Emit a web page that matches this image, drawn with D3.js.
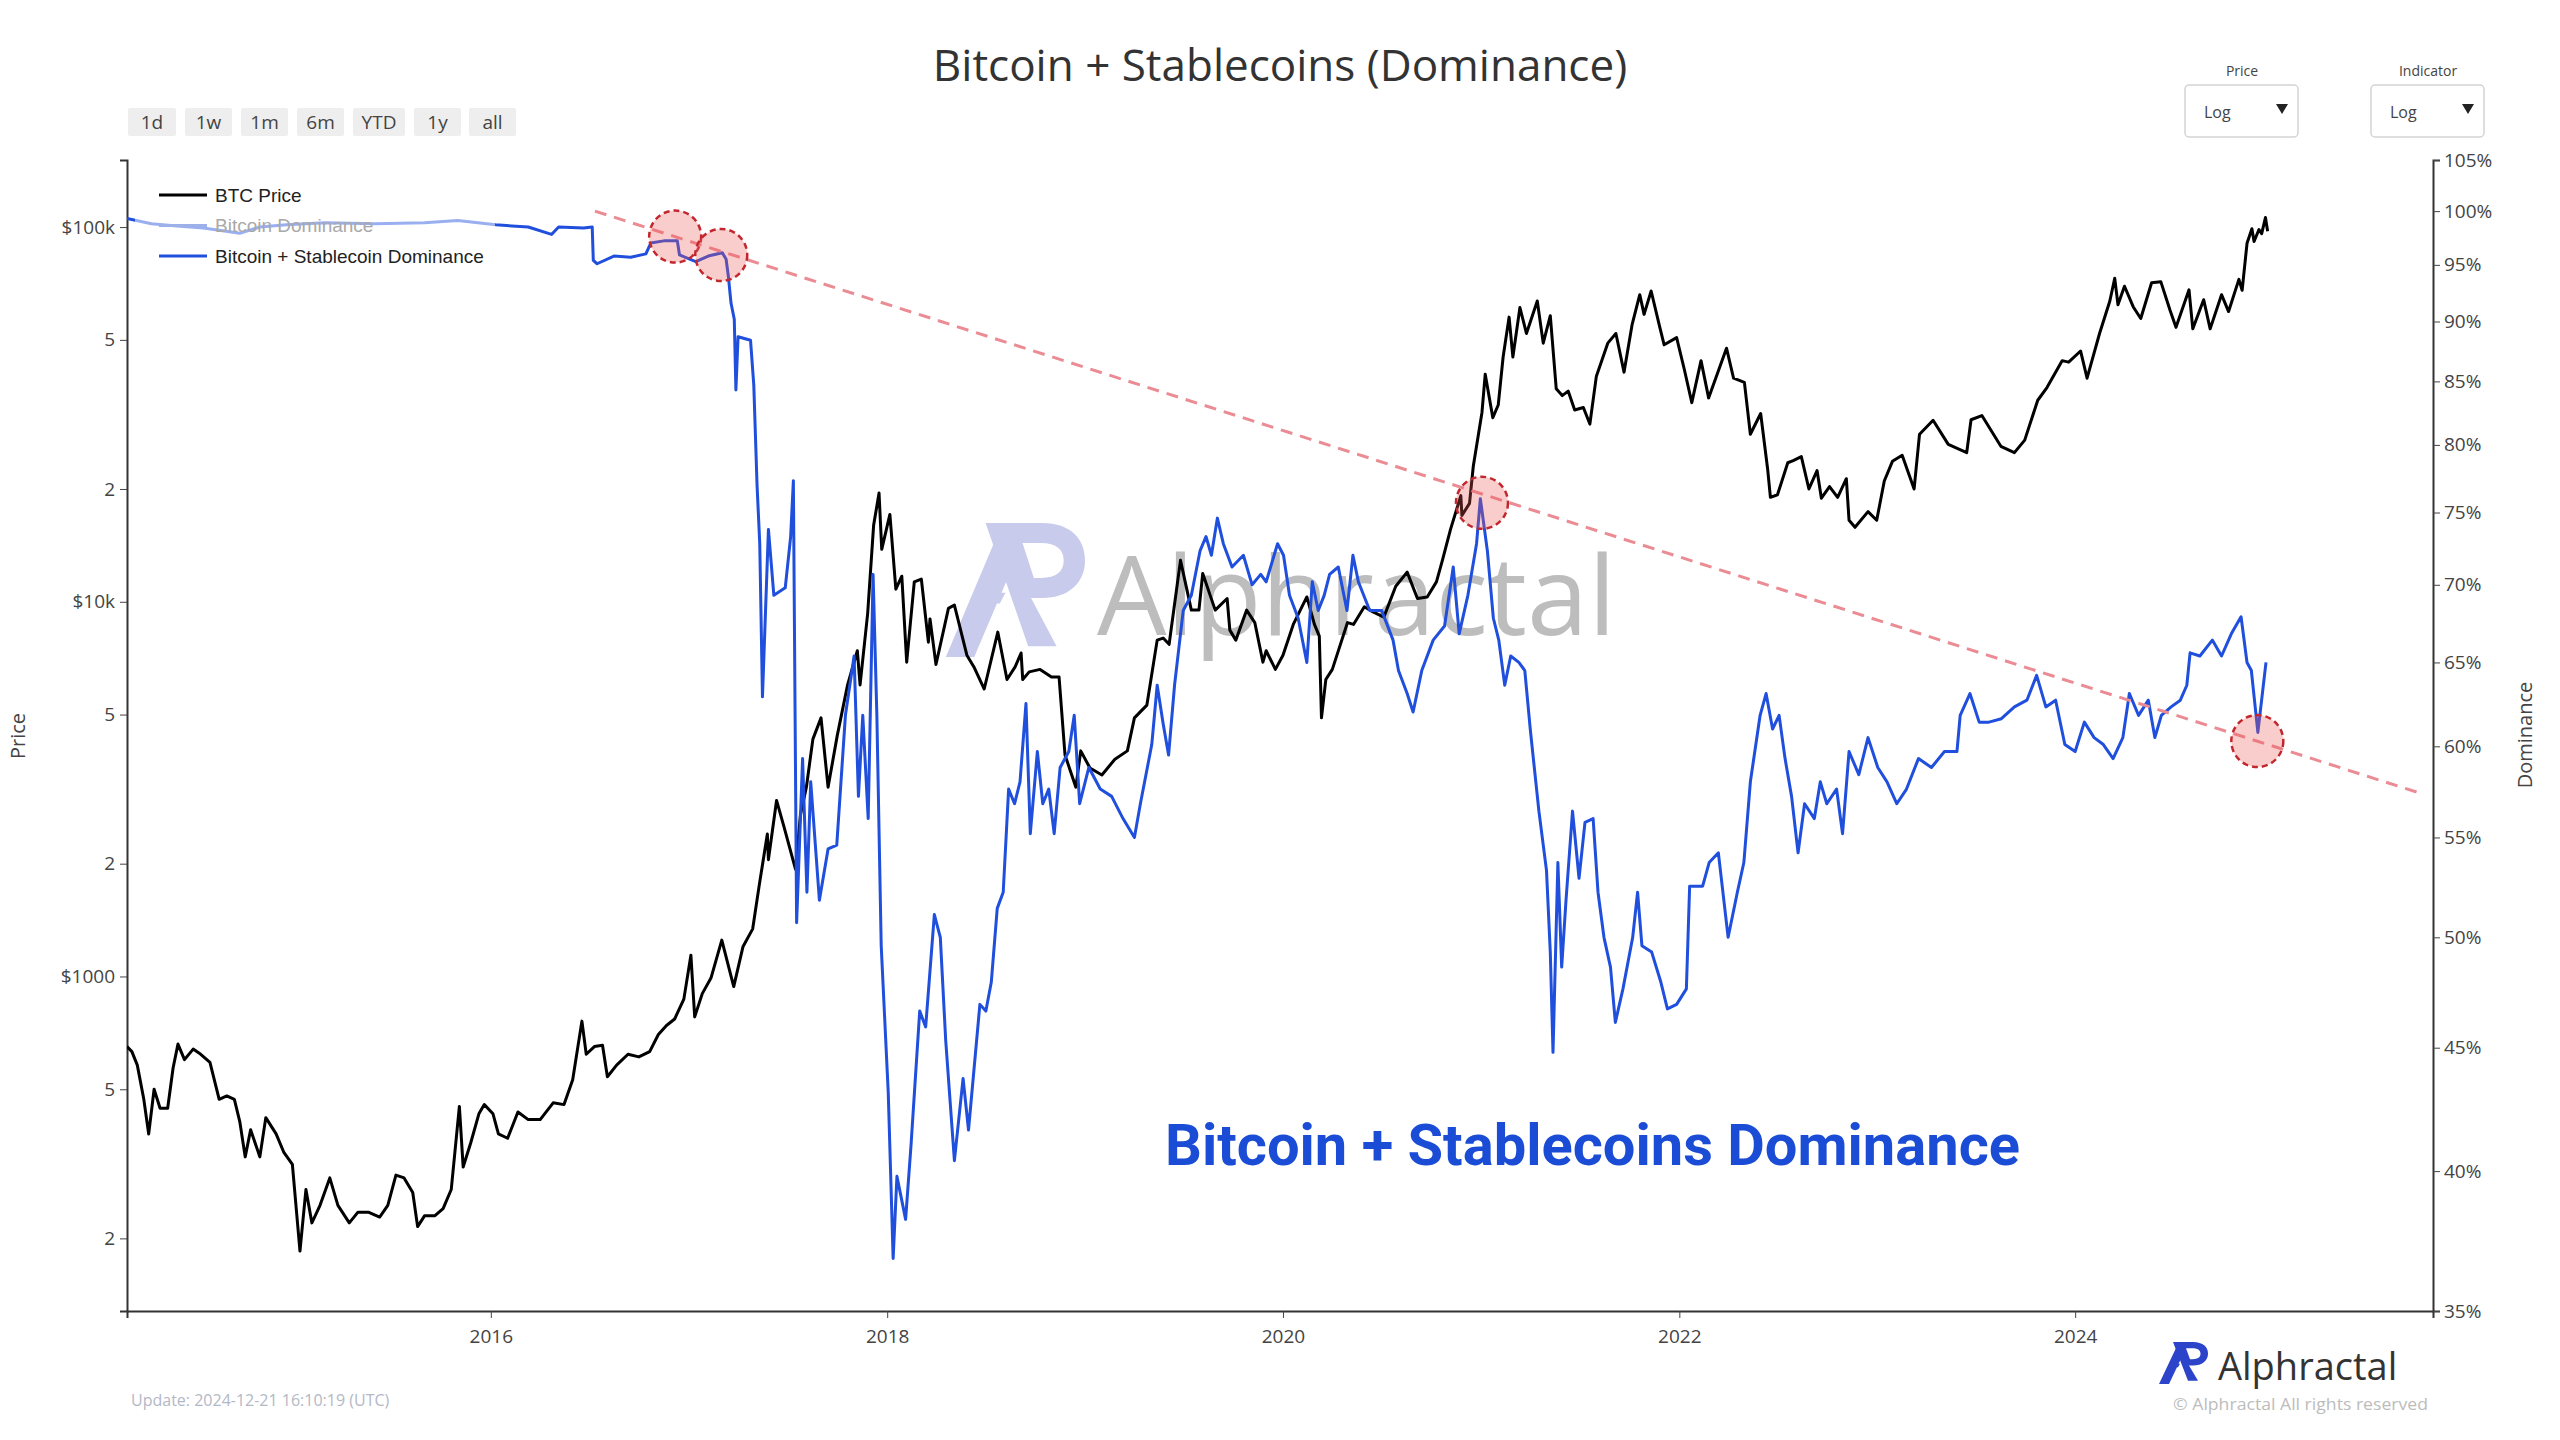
<!DOCTYPE html>
<html>
<head>
<meta charset="utf-8">
<script src="https://cdn.jsdelivr.net/npm/d3@7"></script>
<style>
  body { margin: 0; background: #fff; }
  svg { display: block; font-family: "Open Sans", sans-serif; }
</style>
</head>
<body>
<script>
// BTC price (USD)
var btcPrice = [
  ["2014-03-01",650],["2014-03-10",630],["2014-03-20",580],["2014-04-01",470],["2014-04-10",380],["2014-04-20",500],
  ["2014-05-01",445],["2014-05-15",445],["2014-05-25",570],["2014-06-03",660],["2014-06-15",600],["2014-07-01",640],
  ["2014-07-15",620],["2014-08-01",590],["2014-08-18",470],["2014-09-01",480],["2014-09-15",470],["2014-09-25",410],
  ["2014-10-05",330],["2014-10-15",390],["2014-11-01",330],["2014-11-12",420],["2014-12-01",380],["2014-12-15",340],
  ["2014-12-31",315],["2015-01-14",185],["2015-01-25",270],["2015-02-05",220],["2015-02-20",245],["2015-03-10",290],
  ["2015-03-25",245],["2015-04-15",220],["2015-05-01",235],["2015-05-20",235],["2015-06-10",228],["2015-06-25",245],
  ["2015-07-10",295],["2015-07-25",290],["2015-08-10",265],["2015-08-19",215],["2015-09-01",230],["2015-09-20",230],
  ["2015-10-05",240],["2015-10-20",270],["2015-11-04",450],["2015-11-11",310],["2015-11-25",360],["2015-12-10",430],
  ["2015-12-20",455],["2016-01-05",430],["2016-01-15",380],["2016-02-01",370],["2016-02-20",435],["2016-03-10",415],
  ["2016-04-01",415],["2016-04-25",460],["2016-05-15",455],["2016-05-31",530],["2016-06-17",760],["2016-06-25",620],
  ["2016-07-10",650],["2016-07-25",655],["2016-08-03",540],["2016-08-20",580],["2016-09-10",620],["2016-09-30",610],
  ["2016-10-20",630],["2016-11-05",700],["2016-11-20",740],["2016-12-05",770],["2016-12-22",870],["2017-01-04",1140],
  ["2017-01-11",780],["2017-01-25",900],["2017-02-10",990],["2017-03-02",1250],["2017-03-24",940],["2017-04-10",1200],
  ["2017-04-28",1340],["2017-05-10",1750],["2017-05-25",2400],["2017-05-27",2050],["2017-06-11",2950],["2017-06-25",2500],
  ["2017-07-16",1930],["2017-07-25",2700],["2017-08-05",3200],["2017-08-17",4300],["2017-09-01",4900],["2017-09-14",3200],
  ["2017-10-01",4400],["2017-10-20",6000],["2017-11-07",7400],["2017-11-12",6000],["2017-11-26",9300],["2017-12-07",16000],
  ["2017-12-17",19500],["2017-12-22",13800],["2018-01-06",17100],["2018-01-17",10800],["2018-01-28",11700],["2018-02-06",6900],
  ["2018-02-20",11300],["2018-03-05",11500],["2018-03-18",7800],["2018-03-21",9000],["2018-04-01",6800],["2018-04-24",9600],
  ["2018-05-05",9800],["2018-05-28",7200],["2018-06-10",6700],["2018-06-29",5850],["2018-07-24",8300],["2018-08-10",6200],
  ["2018-08-25",6700],["2018-09-05",7300],["2018-09-08",6200],["2018-09-20",6500],["2018-10-10",6600],["2018-10-31",6300],
  ["2018-11-14",6300],["2018-11-25",3900],["2018-12-15",3200],["2018-12-24",4000],["2019-01-10",3600],["2019-02-01",3450],
  ["2019-02-25",3800],["2019-03-20",4000],["2019-04-02",4900],["2019-04-25",5300],["2019-05-14",7900],["2019-05-25",8000],
  ["2019-06-05",7700],["2019-06-26",12900],["2019-07-16",9500],["2019-07-30",9500],["2019-08-06",11900],["2019-08-29",9500],
  ["2019-09-20",10200],["2019-09-25",8400],["2019-10-06",7900],["2019-10-26",9500],["2019-11-10",8800],["2019-11-25",6900],
  ["2019-12-01",7400],["2019-12-18",6600],["2020-01-01",7200],["2020-01-20",8700],["2020-02-14",10300],["2020-02-28",8700],
  ["2020-03-08",8100],["2020-03-12",4900],["2020-03-20",6200],["2020-04-01",6600],["2020-04-29",8800],["2020-05-10",8700],
  ["2020-05-30",9700],["2020-06-15",9400],["2020-07-05",9100],["2020-07-27",11000],["2020-08-17",12000],["2020-09-05",10200],
  ["2020-09-23",10300],["2020-10-10",11300],["2020-10-21",12900],["2020-11-05",15600],["2020-11-24",19200],["2020-11-26",17000],
  ["2020-12-10",18300],["2020-12-17",23000],["2021-01-02",32000],["2021-01-08",40500],["2021-01-22",31000],["2021-02-01",33500],
  ["2021-02-10",45000],["2021-02-21",57500],["2021-02-28",45000],["2021-03-13",61000],["2021-03-25",52000],["2021-04-14",63500],
  ["2021-04-25",49000],["2021-05-08",58000],["2021-05-19",37000],["2021-05-30",35500],["2021-06-10",36500],["2021-06-22",32500],
  ["2021-07-08",33000],["2021-07-20",29800],["2021-08-01",40000],["2021-08-22",49000],["2021-09-06",52000],["2021-09-21",41000],
  ["2021-10-06",55000],["2021-10-20",66000],["2021-10-28",58500],["2021-11-10",67500],["2021-11-26",54000],["2021-12-04",48500],
  ["2021-12-27",50700],["2022-01-10",41800],["2022-01-24",34000],["2022-02-10",44000],["2022-02-24",35000],["2022-03-29",47500],
  ["2022-04-11",39500],["2022-05-01",38500],["2022-05-12",28000],["2022-05-31",31800],["2022-06-13",22500],["2022-06-18",19000],
  ["2022-07-01",19300],["2022-07-20",23500],["2022-07-30",23800],["2022-08-14",24400],["2022-08-28",20000],["2022-09-12",22400],
  ["2022-09-20",18900],["2022-10-05",20300],["2022-10-20",19000],["2022-11-05",21300],["2022-11-10",16500],["2022-11-21",15800],
  ["2022-12-15",17400],["2022-12-31",16500],["2023-01-14",21000],["2023-01-29",23700],["2023-02-16",24600],["2023-03-10",20000],
  ["2023-03-20",28000],["2023-04-14",30500],["2023-05-12",26300],["2023-06-15",25000],["2023-06-23",30600],["2023-07-13",31400],
  ["2023-08-17",26000],["2023-09-11",25000],["2023-09-30",27000],["2023-10-24",34500],["2023-11-10",37300],["2023-12-08",44000],
  ["2023-12-20",43600],["2024-01-11",46700],["2024-01-23",39500],["2024-02-15",52000],["2024-03-05",63500],["2024-03-14",73000],
  ["2024-03-20",62000],["2024-04-01",69500],["2024-04-17",61300],["2024-05-01",57000],["2024-05-21",71000],["2024-06-07",71500],
  ["2024-06-24",60000],["2024-07-05",54000],["2024-07-29",68000],["2024-08-05",53500],["2024-08-25",64000],["2024-09-06",53500],
  ["2024-09-27",66000],["2024-10-10",59500],["2024-10-29",72500],["2024-11-04",67800],["2024-11-13",90500],["2024-11-22",99000],
  ["2024-11-26",91500],["2024-12-05",98500],["2024-12-10",96000],["2024-12-17",106000],["2024-12-21",97500]
];

// Bitcoin + Stablecoin dominance (%)
var stableDom = [
  ["2014-03-01",99.3],["2014-04-15",98.8],["2014-06-01",98.6],["2014-07-20",98.4],["2014-09-25",97.9],["2014-11-01",98.5],
  ["2014-12-20",98.7],["2015-03-01",98.9],["2015-06-01",98.8],["2015-09-01",98.9],["2015-11-01",99.1],["2016-01-10",98.7],
  ["2016-03-10",98.5],["2016-04-22",97.8],["2016-05-05",98.5],["2016-06-20",98.4],["2016-07-06",98.5],["2016-07-08",95.4],
  ["2016-07-15",95.1],["2016-08-15",95.8],["2016-09-15",95.7],["2016-10-13",96.0],["2016-10-22",97.0],["2016-11-15",97.2],
  ["2016-12-10",97.2],["2016-12-14",95.9],["2017-01-13",95.3],["2017-02-05",95.8],["2017-03-03",96.1],["2017-03-10",95.5],
  ["2017-03-14",94.0],["2017-03-19",91.6],["2017-03-25",90.2],["2017-03-28",84.3],["2017-04-01",88.7],["2017-04-24",88.4],
  ["2017-04-30",84.7],["2017-05-06",77.0],["2017-05-11",72.8],["2017-05-16",62.9],["2017-05-27",73.8],["2017-06-06",69.3],
  ["2017-06-27",69.8],["2017-07-07",73.3],["2017-07-12",77.3],["2017-07-18",50.7],["2017-07-29",59.3],["2017-08-06",52.2],
  ["2017-08-13",58.0],["2017-08-29",51.8],["2017-09-14",54.4],["2017-09-30",54.6],["2017-10-16",61.8],["2017-11-01",65.4],
  ["2017-11-09",57.2],["2017-11-17",61.8],["2017-11-27",56.0],["2017-12-06",70.7],["2017-12-13",61.8],["2017-12-21",49.6],
  ["2018-01-03",43.1],["2018-01-12",36.8],["2018-01-19",39.8],["2018-02-04",38.2],["2018-02-14",41.0],["2018-03-02",46.6],
  ["2018-03-13",45.9],["2018-03-29",51.1],["2018-04-09",50.0],["2018-04-19",45.3],["2018-05-05",40.4],["2018-05-21",43.7],
  ["2018-05-31",41.6],["2018-06-21",46.9],["2018-07-02",46.6],["2018-07-12",47.9],["2018-07-23",51.4],["2018-08-03",52.2],
  ["2018-08-13",57.6],["2018-08-24",56.8],["2018-09-03",58.0],["2018-09-14",62.5],["2018-09-22",55.2],["2018-10-05",59.7],
  ["2018-10-15",56.8],["2018-10-26",57.6],["2018-11-05",55.2],["2018-11-16",58.8],["2018-12-02",59.7],["2018-12-12",61.8],
  ["2018-12-22",56.8],["2019-01-08",58.8],["2019-01-29",57.6],["2019-02-19",57.2],["2019-03-12",56.0],["2019-04-02",55.0],
  ["2019-04-13",56.8],["2019-05-04",60.1],["2019-05-14",63.6],["2019-05-25",61.3],["2019-06-04",59.5],["2019-06-15",63.6],
  ["2019-07-01",68.3],["2019-07-16",69.3],["2019-08-01",72.3],["2019-08-12",73.3],["2019-08-22",72.0],["2019-09-02",74.6],
  ["2019-09-13",72.8],["2019-09-29",71.2],["2019-10-20",72.0],["2019-11-05",70.0],["2019-11-21",70.7],["2019-12-01",70.2],
  ["2019-12-22",72.8],["2020-01-02",72.0],["2020-01-13",69.3],["2020-01-29",67.8],["2020-02-14",65.0],["2020-02-24",70.2],
  ["2020-03-06",68.3],["2020-03-17",69.3],["2020-03-27",70.7],["2020-04-12",71.2],["2020-04-28",68.3],["2020-05-09",72.0],
  ["2020-05-19",70.2],["2020-06-09",68.3],["2020-07-01",68.3],["2020-07-22",66.4],["2020-08-01",64.5],["2020-08-17",63.1],
  ["2020-08-28",62.0],["2020-09-13",64.5],["2020-10-04",66.4],["2020-10-25",67.3],["2020-11-10",71.2],["2020-11-21",66.8],
  ["2020-12-07",69.3],["2020-12-23",72.8],["2020-12-30",76.0],["2021-01-12",72.3],["2021-01-23",67.8],["2021-02-02",66.4],
  ["2021-02-13",63.6],["2021-02-24",65.4],["2021-03-11",65.0],["2021-03-22",64.5],["2021-04-01",61.0],["2021-04-17",56.4],
  ["2021-05-01",53.3],["2021-05-08",49.3],["2021-05-13",44.8],["2021-05-22",53.7],["2021-05-29",48.6],["2021-06-06",51.8],
  ["2021-06-18",56.4],["2021-06-30",52.9],["2021-07-11",55.8],["2021-07-26",56.0],["2021-08-04",52.2],["2021-08-15",50.0],
  ["2021-08-27",48.6],["2021-09-05",46.1],["2021-09-19",47.6],["2021-10-07",50.0],["2021-10-16",52.2],["2021-10-24",49.6],
  ["2021-11-11",49.3],["2021-11-28",47.9],["2021-12-10",46.7],["2021-12-27",46.9],["2022-01-14",47.6],["2022-01-20",52.5],
  ["2022-02-13",52.5],["2022-02-25",53.7],["2022-03-14",54.2],["2022-04-01",50.0],["2022-04-18",52.2],["2022-04-30",53.7],
  ["2022-05-12",58.0],["2022-05-30",61.8],["2022-06-10",63.1],["2022-06-22",61.0],["2022-07-04",61.8],["2022-07-15",59.3],
  ["2022-07-27",57.2],["2022-08-08",54.2],["2022-08-20",56.8],["2022-09-07",56.0],["2022-09-18",58.0],["2022-09-30",56.8],
  ["2022-10-18",57.6],["2022-10-29",55.2],["2022-11-10",59.7],["2022-11-28",58.4],["2022-12-15",60.5],["2023-01-02",58.8],
  ["2023-01-19",58.0],["2023-02-06",56.8],["2023-02-24",57.6],["2023-03-18",59.3],["2023-04-11",58.8],["2023-05-05",59.7],
  ["2023-05-28",59.7],["2023-06-03",61.8],["2023-06-21",63.1],["2023-07-08",61.4],["2023-07-26",61.4],["2023-08-18",61.6],
  ["2023-09-11",62.3],["2023-10-04",62.7],["2023-10-22",64.2],["2023-11-08",62.3],["2023-11-26",62.7],["2023-12-13",60.1],
  ["2024-01-01",59.7],["2024-01-18",61.4],["2024-02-05",60.5],["2024-02-22",60.1],["2024-03-11",59.3],["2024-03-29",60.5],
  ["2024-04-10",63.1],["2024-04-27",61.8],["2024-05-15",62.7],["2024-05-27",60.5],["2024-06-08",61.8],["2024-06-26",62.3],
  ["2024-07-13",62.7],["2024-07-25",63.6],["2024-07-31",65.6],["2024-08-18",65.4],["2024-09-10",66.4],["2024-09-27",65.4],
  ["2024-10-15",66.8],["2024-11-02",67.9],["2024-11-13",65.0],["2024-11-21",64.5],["2024-12-03",60.8],["2024-12-18",65.0]
];

var priceTicks = [200, 500, 1000, 2000, 5000, 10000, 20000, 50000, 100000];
var priceTickLabels = ["2", "5", "$1000", "2", "5", "$10k", "2", "5", "$100k"];
var domTicks = [35, 40, 45, 50, 55, 60, 65, 70, 75, 80, 85, 90, 95, 100, 105];
var yearTicks = ["2016", "2018", "2020", "2022", "2024"];
var rangeButtons = ["1d", "1w", "1m", "6m", "YTD", "1y", "all"];
var legendItems = ["BTC Price", "Bitcoin Dominance", "Bitcoin + Stablecoin Dominance"];
var trendLine = [["2016-07-11", 100.0], ["2025-09-26", 57.4]];
var highlights = [["2016-12-06", 97.6], ["2017-03-01", 95.9], ["2021-01-02", 75.7], ["2024-12-02", 60.3]];

var BLUE = "#1f4fdc";
var parse = d3.timeParse("%Y-%m-%d");

var svg = d3.select("body").append("svg")
  .attr("width", 2560).attr("height", 1440);

var L = 127, R = 2433, T = 160, B = 1311;

var x = d3.scaleTime().domain([parse("2014-03-01"), parse("2025-10-22")]).range([L, R]);
var yPrice = d3.scaleLog().domain([128, 151000]).range([B, T]);
var yDom = d3.scaleLog().domain([35, 105]).range([B, T]);

// title
svg.append("text").attr("x", 1280).attr("y", 64).attr("text-anchor", "middle")
  .attr("dominant-baseline", "central").attr("font-size", 44).attr("fill", "#333")
  .text("Bitcoin + Stablecoins (Dominance)");

// range buttons
var bx = [128, 185, 241, 297, 353, 414, 469];
var bw = [48, 47, 47, 47, 52, 47, 47];
rangeButtons.forEach(function(b, i) {
  svg.append("rect").attr("x", bx[i]).attr("y", 108).attr("width", bw[i]).attr("height", 28)
    .attr("rx", 2).attr("fill", "#eeeeee");
  svg.append("text").attr("x", bx[i] + bw[i] / 2).attr("y", 122).attr("text-anchor", "middle")
    .attr("dominant-baseline", "central").attr("font-size", 19).attr("fill", "#444").text(b);
});

// dropdowns
[["Price", 2185], ["Indicator", 2371]].forEach(function(d) {
  svg.append("text").attr("x", d[1] + 57).attr("y", 70).attr("text-anchor", "middle")
    .attr("dominant-baseline", "central").attr("font-size", 14).attr("fill", "#444").text(d[0]);
  svg.append("rect").attr("x", d[1]).attr("y", 85).attr("width", 113).attr("height", 52)
    .attr("rx", 4).attr("fill", "#fff").attr("stroke", "#d4d4d4").attr("stroke-width", 1.5);
  svg.append("text").attr("x", d[1] + 19).attr("y", 112).attr("dominant-baseline", "central")
    .attr("font-size", 16).attr("fill", "#444").text("Log");
  svg.append("path").attr("d", "M" + (d[1] + 91) + ",104 l12,0 l-6,10 z").attr("fill", "#222");
});

// watermark
function logo(g, x0, y0, w, h, color) {
  var s = g.append("g").attr("transform", "translate(" + x0 + "," + y0 + ") scale(" + (w / 100) + "," + (h / 100) + ")");
  s.append("path").attr("d", "M2,100 L22,100 L50,30 L41,2 Z").attr("fill", color);
  s.append("path").attr("fill-rule", "evenodd").attr("fill", color)
    .attr("d", "M30,0 L70,0 C90,0 100,12 100,28 C100,45 88,56 70,56 L62,56 L80,92 L60,92 Z " +
               "M56,15 L69,15 C80,15 85,20 85,28 C85,36 80,41 69,41 L64,41 Z");
  s.append("path").attr("d", "M24,52 L44,52 L40,60 L21,60 Z").attr("fill", color);
}
var wm = svg.append("g");
logo(wm, 943, 523, 142, 134, "#c8cbec");
wm.append("text").attr("x", 1097).attr("y", 635).attr("font-size", 110).attr("fill", "#bdbdbd")
  .text("Alphractal");

// axes
var gx = svg.append("g").attr("transform", "translate(0," + B + ")")
  .call(d3.axisBottom(x).tickValues(yearTicks.map(function(y) { return parse(y + "-01-01"); }))
    .tickFormat(d3.timeFormat("%Y")).tickSizeOuter(0).tickSize(7).tickPadding(12));
var gl = svg.append("g").attr("transform", "translate(" + L + ",0)")
  .call(d3.axisLeft(yPrice).tickValues(priceTicks)
    .tickFormat(function(d, i) { return priceTickLabels[i]; }).tickSizeOuter(0).tickSize(7).tickPadding(5));
var gr = svg.append("g").attr("transform", "translate(" + R + ",0)")
  .call(d3.axisRight(yDom).tickValues(domTicks)
    .tickFormat(function(d) { return d + "%"; }).tickSizeOuter(0).tickSize(7).tickPadding(4));
[gx, gl, gr].forEach(function(g) {
  g.selectAll("text").attr("font-size", 19).attr("fill", "#444").attr("font-family", "Open Sans, sans-serif");
  g.selectAll("line").attr("stroke", "#444");
  g.select(".domain").attr("stroke", "#333").attr("stroke-width", 2);
});

svg.append("text").attr("transform", "translate(17,736) rotate(-90)").attr("text-anchor", "middle")
  .attr("dominant-baseline", "central").attr("font-size", 20).attr("fill", "#444").text("Price");
svg.append("text").attr("transform", "translate(2524,735) rotate(-90)").attr("text-anchor", "middle")
  .attr("dominant-baseline", "central").attr("font-size", 20).attr("fill", "#444").text("Dominance");

// clip
svg.append("clipPath").attr("id", "plot").append("rect")
  .attr("x", L).attr("y", T).attr("width", R - L).attr("height", B - T);
var plot = svg.append("g").attr("clip-path", "url(#plot)");

var priceLine = d3.line().x(function(d) { return x(parse(d[0])); }).y(function(d) { return yPrice(d[1]); });
var domLine = d3.line().x(function(d) { return x(parse(d[0])); }).y(function(d) { return yDom(d[1]); });

plot.append("path").datum(btcPrice).attr("d", priceLine).attr("fill", "none")
  .attr("stroke", "#000").attr("stroke-width", 3).attr("stroke-linejoin", "round");
plot.append("path").datum(stableDom).attr("d", domLine).attr("fill", "none")
  .attr("stroke", BLUE).attr("stroke-width", 3).attr("stroke-linejoin", "round");

// trend line + highlight circles
plot.append("path").datum(trendLine).attr("d", domLine).attr("fill", "none")
  .attr("stroke", "#eb8b93").attr("stroke-width", 3).attr("stroke-dasharray", "12,8");
plot.selectAll("circle.hl").data(highlights).enter().append("circle")
  .attr("cx", function(d) { return x(parse(d[0])); })
  .attr("cy", function(d) { return yDom(d[1]); })
  .attr("r", 26).attr("fill", "rgba(240,90,90,0.3)")
  .attr("stroke", "#c3272e").attr("stroke-width", 2.5).attr("stroke-dasharray", "6,4");

// legend
svg.append("rect").attr("x", 135).attr("y", 178).attr("width", 360).attr("height", 94)
  .attr("fill", "rgba(255,255,255,0.55)");
var legColors = ["#000", "#9db0ea", BLUE];
var legText = ["#222", "#a9a9a9", "#222"];
legendItems.forEach(function(t, i) {
  var yy = 195 + i * 30.5;
  svg.append("line").attr("x1", 159).attr("x2", 207).attr("y1", yy).attr("y2", yy)
    .attr("stroke", legColors[i]).attr("stroke-width", 3);
  svg.append("text").attr("x", 215).attr("y", yy).attr("dominant-baseline", "central")
    .attr("font-family", "Liberation Sans, Arial, sans-serif").attr("font-size", 19)
    .attr("fill", legText[i]).text(t);
});

// big label
svg.append("text").attr("x", 1165).attr("y", 1165).attr("font-family", "Roboto, sans-serif")
  .attr("font-weight", 700).attr("font-size", 57).attr("fill", "#1a4cd6")
  .attr("textLength", 855).attr("lengthAdjust", "spacingAndGlyphs")
  .text("Bitcoin + Stablecoins Dominance");

// footer
svg.append("text").attr("x", 131).attr("y", 1406).attr("font-size", 16).attr("fill", "#b3b8c6")
  .text("Update: 2024-12-21 16:10:19 (UTC)");
var bl = svg.append("g");
logo(bl, 2158, 1342, 50, 42, "#2b44c9");
bl.append("text").attr("x", 2218).attr("y", 1380).attr("font-size", 38).attr("fill", "#333").text("Alphractal");
bl.append("text").attr("x", 2173).attr("y", 1410).attr("font-size", 17).attr("fill", "#bcbcbc")
  .attr("textLength", 255).attr("lengthAdjust", "spacingAndGlyphs")
  .text("\u00a9 Alphractal All rights reserved");
</script>
</body>
</html>
